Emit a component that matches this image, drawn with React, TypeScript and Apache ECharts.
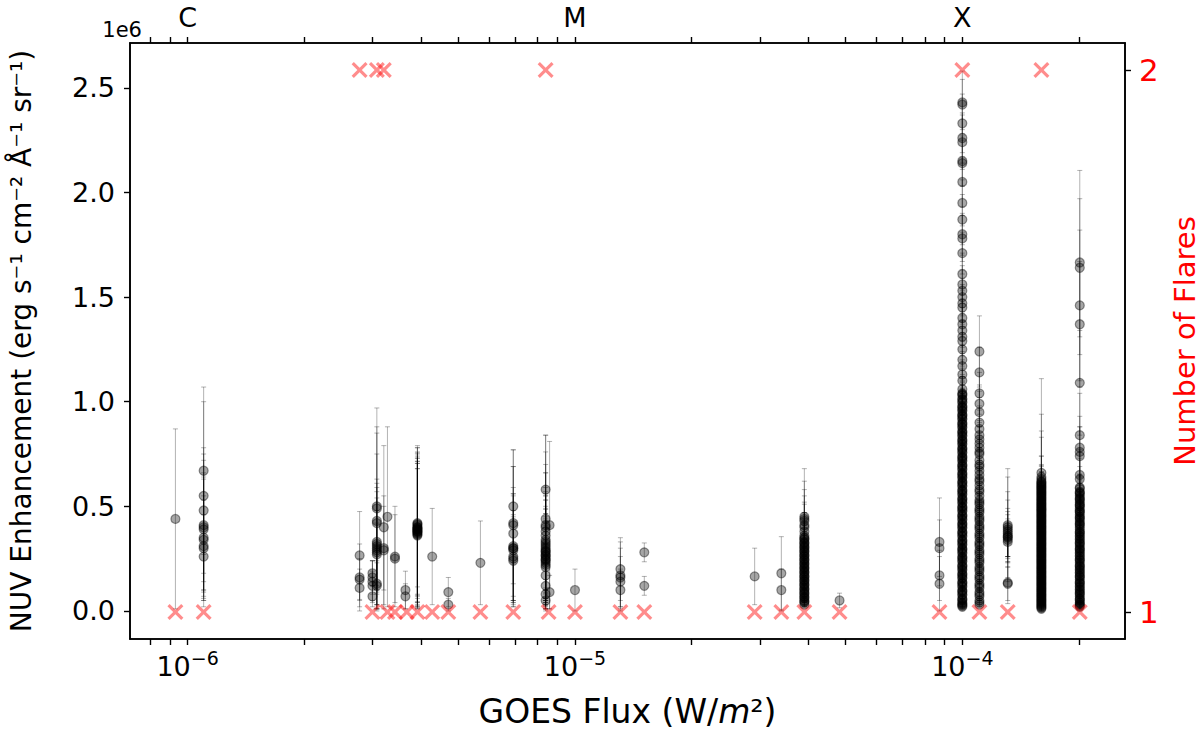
import React, { useEffect, useRef } from 'react';
import * as echarts from 'echarts';

// ---- axis tick values / labels ----
const xMinorTicks = [
  8e-7, 9e-7, 1e-6, 2e-6, 3e-6, 4e-6, 5e-6, 6e-6, 7e-6, 8e-6, 9e-6,
  1e-5, 2e-5, 3e-5, 4e-5, 5e-5, 6e-5, 7e-5, 8e-5, 9e-5, 1e-4, 2e-4,
];
const xMajorTicks = [1e-6, 1e-5, 1e-4];
const classLabels = ['C', 'M', 'X'];
const nuvTicks = [0, 0.5, 1.0, 1.5, 2.0, 2.5]; // x 1e6
const countTicks = [1, 2];

// ---- flare counts (red crosses) ----
const flareFlux = [
  9.3e-7, 1.1e-6, 2.78e-6, 3.0e-6, 3.08e-6, 3.21e-6, 3.28e-6, 3.43e-6, 3.68e-6, 3.92e-6,
  4.28e-6, 4.71e-6, 5.7e-6, 6.93e-6, 8.4e-6, 8.55e-6, 1.0e-5, 1.31e-5, 1.51e-5, 2.91e-5,
  3.41e-5, 3.91e-5, 4.82e-5, 8.73e-5, 1.0e-4, 1.107e-4, 1.31e-4, 1.6e-4, 2.01e-4,
];
const flareCount = [
  1, 1, 2, 1, 2, 2, 1, 1, 1, 1,
  1, 1, 1, 1, 2, 1, 1, 1, 1, 1,
  1, 1, 1, 1, 2, 1, 1, 2, 1,
];

// ---- NUV enhancement observations: flux of each column ----
const obsFlux = [
  9.3e-7, 1.1e-6, 2.78e-6, 3.0e-6, 3.08e-6, 3.21e-6, 3.28e-6, 3.43e-6, 3.65e-6, 3.92e-6,
  4.28e-6, 4.71e-6, 5.7e-6, 6.93e-6, 8.4e-6, 8.6e-6, 1.0e-5, 1.31e-5, 1.51e-5, 2.91e-5,
  3.41e-5, 3.91e-5, 4.82e-5, 8.73e-5, 1.0e-4, 1.107e-4, 1.31e-4, 1.6e-4, 2.01e-4,
];
// [value, error] pairs in units of 1e6 erg s^-1 cm^-2 A^-1 sr^-1, one list per column
const nuvObs: number[][][] = [
  [[0.44, 0.43]],
  [[0.67, 0.40], [0.55, 0.45], [0.48, 0.30], [0.41, 0.31], [0.40, 0.35], [0.39, 0.25], [0.35, 0.28], [0.34, 0.32], [0.31, 0.22], [0.30, 0.25], [0.26, 0.20]],
  [[0.265, 0.21], [0.16, 0.16], [0.15, 0.10], [0.11, 0.09]],
  [[0.18, 0.06], [0.16, 0.08], [0.14, 0.10], [0.12, 0.07], [0.07, 0.05]],
  [[0.50, 0.47], [0.49, 0.39], [0.43, 0.42], [0.42, 0.33], [0.33, 0.30], [0.32, 0.22], [0.31, 0.30], [0.30, 0.29], [0.29, 0.28], [0.28, 0.20], [0.27, 0.15], [0.13, 0.10], [0.12, 0.12]],
  [[0.40, 0.39], [0.30, 0.20], [0.29, 0.26]],
  [[0.45, 0.43]],
  [[0.26, 0.24], [0.25, 0.21]],
  [[0.10, 0.09], [0.07, 0.06]],
  [[0.42, 0.36], [0.415, 0.30], [0.41, 0.34], [0.40, 0.38], [0.40, 0.39], [0.395, 0.32], [0.39, 0.35], [0.39, 0.37], [0.385, 0.37], [0.38, 0.30], [0.38, 0.35], [0.375, 0.33], [0.37, 0.36], [0.365, 0.34], [0.36, 0.32]],
  [[0.26, 0.23]],
  [[0.09, 0.07], [0.03, 0.03]],
  [[0.23, 0.20]],
  [[0.50, 0.27], [0.42, 0.35], [0.41, 0.28], [0.37, 0.32], [0.31, 0.28], [0.30, 0.26], [0.30, 0.25], [0.29, 0.27], [0.26, 0.22], [0.25, 0.20], [0.24, 0.22]],
  [[0.58, 0.26], [0.44, 0.40], [0.41, 0.35], [0.40, 0.30], [0.38, 0.28], [0.36, 0.30], [0.34, 0.25], [0.33, 0.22], [0.32, 0.24], [0.31, 0.26], [0.30, 0.25], [0.29, 0.24], [0.285, 0.20], [0.28, 0.22], [0.27, 0.26], [0.265, 0.20], [0.26, 0.23], [0.25, 0.20], [0.245, 0.22], [0.24, 0.20], [0.23, 0.20], [0.22, 0.18], [0.21, 0.20], [0.17, 0.15], [0.12, 0.11], [0.08, 0.07], [0.05, 0.05]],
  [[0.41, 0.40], [0.09, 0.08]],
  [[0.10, 0.10]],
  [[0.20, 0.15], [0.17, 0.16], [0.16, 0.14], [0.14, 0.12], [0.10, 0.10]],
  [[0.28, 0.045], [0.12, 0.045]],
  [[0.165, 0.135]],
  [[0.18, 0.175], [0.10, 0.10]],
  [[0.45, 0.23], [0.44, 0.18], [0.43, 0.15], [0.41, 0.14], [0.40, 0.12], [0.38, 0.13], [0.36, 0.11], [0.35, 0.12], [0.34, 0.10], [0.33, 0.11], [0.32, 0.09], [0.31, 0.10], [0.30, 0.09], [0.29, 0.08], [0.28, 0.09], [0.27, 0.08], [0.26, 0.07], [0.25, 0.08], [0.24, 0.07], [0.23, 0.07], [0.22, 0.06], [0.21, 0.07], [0.20, 0.06], [0.19, 0.06], [0.18, 0.05], [0.17, 0.06], [0.16, 0.05], [0.15, 0.05], [0.14, 0.04], [0.13, 0.05], [0.12, 0.04], [0.11, 0.04], [0.10, 0.03], [0.09, 0.04], [0.08, 0.03], [0.07, 0.03], [0.06, 0.02], [0.05, 0.02], [0.04, 0.02], [0.03, 0.01],
   [0.345, 0.08], [0.325, 0.07], [0.305, 0.07], [0.285, 0.06], [0.265, 0.06], [0.245, 0.05], [0.225, 0.05], [0.205, 0.05], [0.185, 0.04], [0.165, 0.04], [0.145, 0.04], [0.125, 0.03], [0.105, 0.03], [0.085, 0.03], [0.065, 0.02], [0.045, 0.02]],
  [[0.05, 0.035]],
  [[0.33, 0.21], [0.30, 0.135], [0.17, 0.12], [0.13, 0.13]],
  [[2.43, 0.15], [2.42, 0.12], [2.33, 0.14], [2.26, 0.12], [2.24, 0.13], [2.15, 0.12], [2.14, 0.11], [2.05, 0.12], [1.95, 0.11], [1.87, 0.12], [1.80, 0.10], [1.78, 0.11], [1.71, 0.10], [1.61, 0.10], [1.56, 0.09], [1.53, 0.10], [1.50, 0.09], [1.47, 0.09], [1.45, 0.08], [1.40, 0.09], [1.37, 0.08], [1.34, 0.08], [1.31, 0.08], [1.29, 0.07], [1.25, 0.08], [1.20, 0.07], [1.17, 0.07], [1.13, 0.07], [1.10, 0.06], [1.06, 0.06],
   [1.04, 0.08], [1.03, 0.06], [1.01, 0.07], [1.00, 0.05], [0.98, 0.07], [0.97, 0.06], [0.96, 0.08], [0.94, 0.05], [0.93, 0.06], [0.92, 0.07], [0.90, 0.05], [0.89, 0.06], [0.88, 0.08], [0.86, 0.05], [0.85, 0.06], [0.84, 0.07], [0.82, 0.05], [0.81, 0.06], [0.80, 0.05], [0.78, 0.07], [0.77, 0.05], [0.76, 0.06], [0.74, 0.05], [0.73, 0.06], [0.72, 0.07], [0.70, 0.05], [0.69, 0.05], [0.68, 0.06], [0.66, 0.05], [0.65, 0.06], [0.64, 0.05], [0.62, 0.05], [0.61, 0.06], [0.60, 0.04], [0.58, 0.05], [0.57, 0.06], [0.56, 0.04], [0.54, 0.05], [0.53, 0.05], [0.52, 0.04], [0.50, 0.05], [0.49, 0.04], [0.48, 0.05], [0.46, 0.04], [0.45, 0.05], [0.44, 0.04], [0.42, 0.04], [0.41, 0.05], [0.40, 0.04], [0.38, 0.04], [0.37, 0.05], [0.36, 0.04], [0.34, 0.04], [0.33, 0.03], [0.32, 0.04], [0.30, 0.04], [0.29, 0.03], [0.28, 0.04], [0.26, 0.03], [0.25, 0.04], [0.24, 0.03], [0.22, 0.03], [0.21, 0.04], [0.20, 0.03], [0.18, 0.03], [0.17, 0.03], [0.16, 0.02], [0.14, 0.03], [0.13, 0.02], [0.12, 0.03], [0.10, 0.02], [0.09, 0.03], [0.08, 0.02], [0.06, 0.02], [0.05, 0.02], [0.04, 0.02], [0.03, 0.01], [0.02, 0.01],
   [1.035, 0.06], [1.015, 0.05], [0.995, 0.06], [0.975, 0.05], [0.955, 0.07], [0.935, 0.05], [0.915, 0.06], [0.895, 0.05], [0.875, 0.06], [0.855, 0.05], [0.835, 0.06], [0.815, 0.05], [0.795, 0.06], [0.775, 0.05], [0.755, 0.05], [0.735, 0.06], [0.715, 0.05], [0.695, 0.05], [0.675, 0.05], [0.655, 0.06], [0.635, 0.04], [0.615, 0.05], [0.595, 0.04], [0.575, 0.05], [0.555, 0.04], [0.535, 0.05], [0.515, 0.04], [0.495, 0.05], [0.475, 0.04], [0.455, 0.04], [0.435, 0.05], [0.415, 0.04], [0.395, 0.04], [0.375, 0.04], [0.355, 0.04], [0.335, 0.03], [0.315, 0.04], [0.295, 0.03], [0.275, 0.03], [0.255, 0.04], [0.235, 0.03], [0.215, 0.03], [0.195, 0.03], [0.175, 0.03], [0.155, 0.02], [0.135, 0.03], [0.115, 0.02], [0.095, 0.02], [0.075, 0.02], [0.055, 0.02], [0.035, 0.01], [0.025, 0.01]],
  [[1.24, 0.17], [1.14, 0.12], [1.04, 0.10], [0.99, 0.09], [0.95, 0.10], [0.90, 0.08], [0.87, 0.09], [0.84, 0.07], [0.80, 0.08], [0.78, 0.06], [0.75, 0.08], [0.72, 0.06], [0.70, 0.07], [0.67, 0.06], [0.65, 0.05], [0.62, 0.06], [0.60, 0.05], [0.58, 0.06], [0.55, 0.05], [0.53, 0.04], [0.51, 0.05], [0.49, 0.04], [0.47, 0.05], [0.45, 0.04], [0.43, 0.04], [0.41, 0.05], [0.39, 0.04], [0.37, 0.04], [0.35, 0.03], [0.33, 0.04], [0.31, 0.03], [0.29, 0.04], [0.27, 0.03], [0.25, 0.03], [0.23, 0.03], [0.21, 0.03], [0.19, 0.02], [0.17, 0.03], [0.15, 0.02], [0.13, 0.02], [0.11, 0.02], [0.09, 0.02], [0.07, 0.02], [0.05, 0.01], [0.03, 0.01],
   [0.82, 0.06], [0.76, 0.05], [0.69, 0.06], [0.63, 0.05], [0.57, 0.05], [0.52, 0.04], [0.48, 0.04], [0.44, 0.04], [0.40, 0.04], [0.36, 0.03], [0.32, 0.03], [0.28, 0.03], [0.24, 0.03], [0.20, 0.02], [0.16, 0.02], [0.12, 0.02], [0.08, 0.02], [0.04, 0.01]],
  [[0.41, 0.27], [0.40, 0.24], [0.39, 0.18], [0.38, 0.15], [0.37, 0.12], [0.36, 0.10], [0.355, 0.12], [0.35, 0.09], [0.34, 0.08], [0.33, 0.07], [0.135, 0.10], [0.13, 0.08]],
  [[0.66, 0.45], [0.64, 0.30], [0.63, 0.20], [0.62, 0.12], [0.61, 0.25], [0.60, 0.10], [0.59, 0.15], [0.58, 0.08], [0.57, 0.12], [0.56, 0.09], [0.55, 0.07], [0.54, 0.10], [0.53, 0.06], [0.52, 0.08], [0.51, 0.07], [0.50, 0.06], [0.49, 0.08], [0.48, 0.05], [0.47, 0.07], [0.46, 0.06], [0.45, 0.05], [0.44, 0.06], [0.43, 0.05], [0.42, 0.07], [0.41, 0.05], [0.40, 0.04], [0.39, 0.06], [0.38, 0.05], [0.37, 0.04], [0.36, 0.05], [0.35, 0.04], [0.34, 0.05], [0.33, 0.04], [0.32, 0.04], [0.31, 0.05], [0.30, 0.04], [0.29, 0.03], [0.28, 0.04], [0.27, 0.04], [0.26, 0.03], [0.25, 0.04], [0.24, 0.03], [0.23, 0.03], [0.22, 0.04], [0.21, 0.03], [0.20, 0.03], [0.19, 0.03], [0.18, 0.02], [0.17, 0.03], [0.16, 0.03], [0.15, 0.02], [0.14, 0.03], [0.13, 0.02], [0.12, 0.02], [0.11, 0.03], [0.10, 0.02], [0.09, 0.02], [0.08, 0.02], [0.07, 0.02], [0.06, 0.02], [0.05, 0.02], [0.04, 0.01], [0.03, 0.01], [0.02, 0.01], [0.01, 0.01],
   [0.615, 0.08], [0.605, 0.06], [0.595, 0.07], [0.585, 0.05], [0.575, 0.06], [0.565, 0.05], [0.555, 0.06], [0.545, 0.05], [0.535, 0.05], [0.525, 0.04], [0.515, 0.05], [0.505, 0.04], [0.495, 0.05], [0.485, 0.04], [0.475, 0.04], [0.465, 0.05], [0.455, 0.04], [0.445, 0.04], [0.435, 0.04], [0.425, 0.03], [0.415, 0.04], [0.405, 0.04], [0.395, 0.03], [0.385, 0.04], [0.375, 0.03], [0.365, 0.03], [0.355, 0.04], [0.345, 0.03], [0.335, 0.03], [0.325, 0.03], [0.315, 0.03], [0.305, 0.03], [0.295, 0.03], [0.285, 0.02], [0.275, 0.03], [0.265, 0.02], [0.255, 0.03], [0.245, 0.02], [0.235, 0.02], [0.225, 0.03], [0.215, 0.02], [0.205, 0.02], [0.195, 0.02], [0.185, 0.02], [0.175, 0.02], [0.165, 0.02], [0.155, 0.02], [0.145, 0.02], [0.135, 0.02], [0.125, 0.02], [0.115, 0.01], [0.105, 0.02], [0.095, 0.01], [0.085, 0.01], [0.075, 0.01], [0.065, 0.01], [0.055, 0.01], [0.045, 0.01], [0.035, 0.01], [0.025, 0.01], [0.015, 0.01]],
  [[1.665, 0.44], [1.64, 0.33], [1.46, 0.36], [1.37, 0.30], [1.09, 0.25], [0.84, 0.20], [0.78, 0.15], [0.76, 0.12], [0.74, 0.14], [0.65, 0.12], [0.63, 0.10],
   [0.59, 0.10], [0.57, 0.08], [0.56, 0.09], [0.54, 0.07], [0.53, 0.08], [0.51, 0.07], [0.50, 0.06], [0.48, 0.07], [0.47, 0.06], [0.45, 0.06], [0.44, 0.05], [0.42, 0.06], [0.41, 0.05], [0.40, 0.05], [0.38, 0.05], [0.37, 0.04], [0.36, 0.05], [0.34, 0.04], [0.33, 0.04], [0.32, 0.05], [0.30, 0.04], [0.29, 0.04], [0.28, 0.03], [0.26, 0.04], [0.25, 0.03], [0.24, 0.04], [0.22, 0.03], [0.21, 0.03], [0.20, 0.03], [0.18, 0.03], [0.17, 0.02], [0.16, 0.03], [0.14, 0.02], [0.13, 0.02], [0.12, 0.03], [0.10, 0.02], [0.09, 0.02], [0.08, 0.02], [0.06, 0.02], [0.05, 0.01], [0.04, 0.01], [0.03, 0.01], [0.02, 0.01],
   [0.585, 0.07], [0.565, 0.06], [0.55, 0.07], [0.535, 0.05], [0.52, 0.06], [0.505, 0.05], [0.49, 0.05], [0.475, 0.05], [0.46, 0.04], [0.445, 0.05], [0.43, 0.04], [0.415, 0.04], [0.39, 0.04], [0.375, 0.04], [0.355, 0.03], [0.345, 0.04], [0.325, 0.03], [0.31, 0.03], [0.295, 0.03], [0.275, 0.03], [0.265, 0.02], [0.245, 0.03], [0.23, 0.02], [0.215, 0.02], [0.195, 0.02], [0.185, 0.02], [0.165, 0.02], [0.15, 0.02], [0.135, 0.02], [0.115, 0.02], [0.105, 0.01], [0.085, 0.01], [0.07, 0.01], [0.055, 0.01], [0.035, 0.01], [0.025, 0.01]],
];

const FONT = 'DejaVu Sans';
const X_PATH = 'path://M0,1.4 L1.4,0 L5,3.6 L8.6,0 L10,1.4 L6.4,5 L10,8.6 L8.6,10 L5,6.4 L1.4,10 L0,8.6 L3.6,5 Z';

export default function App() {
  const ref = useRef<HTMLDivElement>(null);

  useEffect(() => {
    const chart = echarts.init(ref.current as HTMLDivElement, undefined, { renderer: 'svg' });

    const errData: number[][] = [];
    const ptData: number[][] = [];
    nuvObs.forEach((col, i) => {
      col.forEach(([v, e]) => {
        errData.push([obsFlux[i], v, e]);
        ptData.push([obsFlux[i], v]);
      });
    });
    const flareData = flareFlux.map((f, i) => [f, flareCount[i]]);

    const axisLine = { show: true, onZero: false, lineStyle: { color: '#000', width: 1.6 } };
    const tickStyle = { color: '#000', width: 1.4 };

    const xCommon = {
      type: 'log' as const,
      logBase: 10,
      min: 7.1e-7,
      max: 2.63e-4,
      axisLine,
      splitLine: { show: false },
      minorTick: { show: false },
      minorSplitLine: { show: false },
      axisTick: { show: true, customValues: xMinorTicks, length: 6, lineStyle: tickStyle },
    };

    const option: any = {
      animation: false,
      backgroundColor: '#ffffff',
      textStyle: { fontFamily: FONT },
      grid: {
        left: 130, right: 75, top: 43, bottom: 96,
        show: true, borderColor: '#000', borderWidth: 1.6, backgroundColor: 'transparent',
        containLabel: false, outerBoundsMode: 'none',
      },
      xAxis: [
        {
          ...xCommon,
          position: 'bottom',
          axisLabel: {
            show: true,
            customValues: xMajorTicks,
            margin: 9,
            color: '#000',
            formatter: (v: number) => `{b|10}{s|−${-Math.round(Math.log10(v))}}`,
            rich: {
              b: { fontSize: 27, fontFamily: FONT, color: '#000', verticalAlign: 'bottom' },
              s: { fontSize: 19, fontFamily: FONT, color: '#000', verticalAlign: 'bottom', padding: [0, 0, 13, 0] },
            },
          },
          name: 'GOES Flux (W/{i|m}²)',
          nameLocation: 'middle',
          nameGap: 56,
          nameTextStyle: {
            fontSize: 33,
            fontFamily: FONT,
            color: '#000',
            rich: { i: { fontSize: 33, fontFamily: FONT, fontStyle: 'italic', color: '#000' } },
          },
        },
        {
          ...xCommon,
          position: 'top',
          axisLabel: {
            show: true,
            customValues: xMajorTicks,
            margin: 12,
            color: '#000',
            fontSize: 27,
            fontFamily: FONT,
            formatter: (v: number) => classLabels[Math.round(Math.log10(v)) + 6] ?? '',
          },
        },
      ],
      yAxis: [
        {
          type: 'value',
          position: 'left',
          min: -0.134,
          max: 2.714,
          axisLine,
          splitLine: { show: false },
          axisTick: { show: true, customValues: nuvTicks, length: 6, lineStyle: tickStyle },
          axisLabel: {
            show: true,
            customValues: nuvTicks,
            margin: 15,
            color: '#000',
            fontSize: 27,
            fontFamily: FONT,
            formatter: (v: number) => v.toFixed(1),
          },
          name: 'NUV Enhancement (erg s⁻¹ cm⁻² Å⁻¹ sr⁻¹)',
          nameLocation: 'middle',
          nameRotate: 90,
          nameGap: 95,
          nameTextStyle: { fontSize: 28, fontFamily: FONT, color: '#000' },
        },
        {
          type: 'value',
          position: 'right',
          min: 0.95,
          max: 2.05,
          axisLine,
          splitLine: { show: false },
          axisTick: { show: true, customValues: countTicks, length: 6, lineStyle: tickStyle },
          axisLabel: {
            show: true,
            customValues: countTicks,
            margin: 14,
            color: '#ff0000',
            fontSize: 31,
            fontFamily: FONT,
            formatter: (v: number) => String(Math.round(v)),
          },
          name: 'Number of Flares',
          nameLocation: 'middle',
          nameRotate: 90,
          nameGap: 37,
          nameTextStyle: { fontSize: 29, lineHeight: 30, fontFamily: FONT, color: '#ff0000' },
        },
      ],
      graphic: [
        {
          type: 'text',
          x: 142,
          y: 30,
          style: { text: '1e6', fontSize: 21, fontFamily: FONT, fill: '#000', align: 'right', verticalAlign: 'middle' },
        },
      ],
      series: [
        {
          type: 'custom',
          name: 'errors',
          xAxisIndex: 0,
          yAxisIndex: 0,
          silent: true,
          clip: true,
          z: 2,
          encode: { x: 0, y: 1 },
          data: errData,
          renderItem: (params: any, api: any) => {
            const x = api.value(0);
            const y = api.value(1);
            const e = api.value(2);
            const top = api.coord([x, y + e]);
            const bot = api.coord([x, y - e]);
            const cap = 2.5;
            const style = { stroke: 'rgba(0,0,0,0.3)', lineWidth: 1, fill: null };
            return {
              type: 'group',
              children: [
                { type: 'line', shape: { x1: top[0], y1: top[1], x2: bot[0], y2: bot[1] }, style },
                { type: 'line', shape: { x1: top[0] - cap, y1: top[1], x2: top[0] + cap, y2: top[1] }, style },
                { type: 'line', shape: { x1: bot[0] - cap, y1: bot[1], x2: bot[0] + cap, y2: bot[1] }, style },
              ],
            };
          },
        },
        {
          type: 'scatter',
          name: 'NUV',
          xAxisIndex: 0,
          yAxisIndex: 0,
          silent: true,
          z: 3,
          symbol: 'circle',
          symbolSize: 9,
          itemStyle: { color: 'rgba(0,0,0,0.35)', borderColor: 'rgba(0,0,0,0.4)', borderWidth: 1.2, opacity: 1 },
          data: ptData,
        },
        {
          type: 'scatter',
          name: 'Flares',
          xAxisIndex: 0,
          yAxisIndex: 1,
          silent: true,
          z: 4,
          symbol: X_PATH,
          symbolSize: 16,
          itemStyle: { color: 'rgba(255,0,0,0.45)', opacity: 1 },
          data: flareData,
        },
      ],
    };

    chart.setOption(option);
    return () => chart.dispose();
  }, []);

  return (
    <div
      ref={ref}
      style={{ position: 'absolute', left: 0, top: 0, width: 1200, height: 735, background: '#fff' }}
    />
  );
}
